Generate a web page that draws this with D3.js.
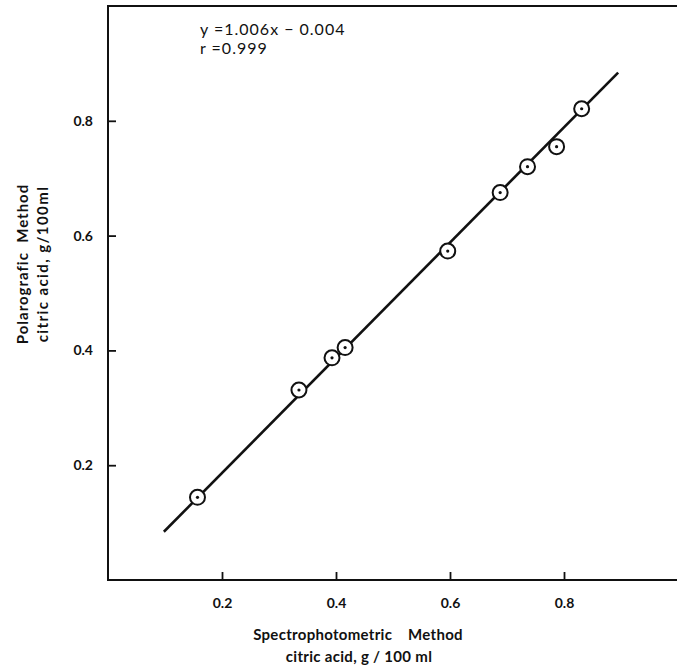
<!DOCTYPE html>
<html lang="en">
<head>
<meta charset="UTF-8">
<title>Polarografic vs Spectrophotometric citric acid</title>
<script src="https://d3js.org/d3.v7.min.js"></script>
<style>
  body { margin: 0; background: #fff; }
  svg { display: block; }
  text { font-family: "Lato", "DejaVu Sans", sans-serif; fill: #111; }
</style>
</head>
<body>
<svg id="chart" width="677" height="671"></svg>
<script>
// data
const spectroX = [0.157, 0.335, 0.393, 0.416, 0.596, 0.688, 0.736, 0.787, 0.831];
const polaroY  = [0.144, 0.331, 0.387, 0.405, 0.573, 0.675, 0.720, 0.755, 0.821];
const fitX = [0.098, 0.895];
const fitY = [0.084, 0.884];
const tickValues = [0.2, 0.4, 0.6, 0.8];
const tickLabels = ["0.2", "0.4", "0.6", "0.8"];

const svg = d3.select("#chart");
const ink = "#111";

const x = d3.scaleLinear().domain([0, 1]).range([108, 678]);
const y = d3.scaleLinear().domain([0, 1]).range([580, 6]);

// frame: left, bottom, top (open on the right)
svg.append("path")
  .attr("d", `M${x(1)},${y(1)} H${x(0)} V${y(0)} H${x(1)}`)
  .attr("fill", "none").attr("stroke", ink).attr("stroke-width", 2);

const xAxis = d3.axisBottom(x).tickValues(tickValues)
  .tickFormat((d, i) => tickLabels[i]).tickSizeInner(-8).tickSizeOuter(0).tickPadding(18);
const yAxis = d3.axisLeft(y).tickValues(tickValues)
  .tickFormat((d, i) => tickLabels[i]).tickSizeInner(-8).tickSizeOuter(0).tickPadding(15);

const gx = svg.append("g").attr("transform", `translate(0,${y(0)})`).call(xAxis);
const gy = svg.append("g").attr("transform", `translate(${x(0)},0)`).call(yAxis);
[gx, gy].forEach(g => {
  g.select(".domain").remove();
  g.selectAll(".tick line").attr("stroke", ink).attr("stroke-width", 1.8);
  g.selectAll(".tick text").attr("font-size", 14).attr("font-weight", "bold")
    .attr("font-family", "Lato, 'DejaVu Sans', sans-serif").attr("fill", ink);
});

// regression line
const line = d3.line().x(d => x(d[0])).y(d => y(d[1]));
svg.append("path")
  .datum(d3.zip(fitX, fitY))
  .attr("d", line)
  .attr("fill", "none").attr("stroke", ink).attr("stroke-width", 2.6);

// points: open circle with a dot
const pts = svg.append("g").selectAll("g")
  .data(d3.zip(spectroX, polaroY))
  .join("g")
  .attr("transform", d => `translate(${x(d[0])},${y(d[1])})`);
pts.append("circle").attr("r", 7.5).attr("fill", "#fff").attr("stroke", ink).attr("stroke-width", 2);
pts.append("circle").attr("r", 1.6).attr("fill", ink);

// equation
svg.append("text").attr("x", 200).attr("y", 35).attr("font-size", 16)
  .attr("letter-spacing", 1)
  .text("y =1.006x \u2212 0.004");
svg.append("text").attr("x", 200).attr("y", 54).attr("font-size", 16)
  .attr("letter-spacing", 1)
  .text("r =0.999");

// axis titles
svg.append("text").attr("x", 358).attr("y", 640).attr("text-anchor", "middle")
  .attr("font-size", 15).attr("font-weight", "bold").attr("letter-spacing", 0.3)
  .attr("xml:space", "preserve")
  .text("Spectrophotometric    Method");
svg.append("text").attr("x", 359).attr("y", 662).attr("text-anchor", "middle")
  .attr("font-size", 15).attr("font-weight", "bold").attr("letter-spacing", 0.3)
  .text("citric acid, g / 100 ml");

const yTitle = svg.append("g").attr("transform", "translate(0,264) rotate(-90)");
yTitle.append("text").attr("x", 0).attr("y", 28).attr("text-anchor", "middle")
  .attr("font-size", 15).attr("font-weight", "bold").attr("letter-spacing", 1)
  .attr("xml:space", "preserve")
  .text("Polarografic  Method");
yTitle.append("text").attr("x", 0).attr("y", 48).attr("text-anchor", "middle")
  .attr("font-size", 15).attr("font-weight", "bold").attr("letter-spacing", 1.4)
  .text("citric acid, g/100ml");
</script>
</body>
</html>
